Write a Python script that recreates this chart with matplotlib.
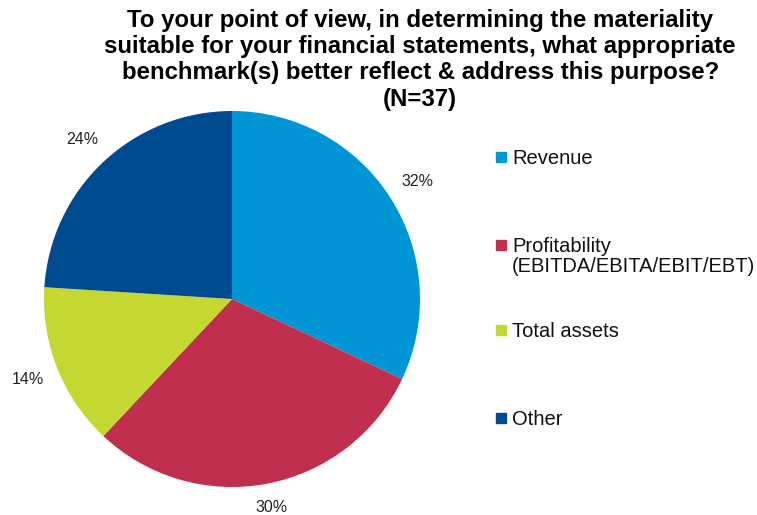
import numpy as np
import matplotlib.pyplot as plt
from matplotlib.patches import Rectangle

categories = ['Revenue', 'Profitability\n(EBITDA/EBITA/EBIT/EBT)', 'Total assets', 'Other']
shares = [32, 30, 14, 24]
colors = ['#0096D6', '#C0304E', '#C4D831', '#004A8F']
title = ('To your point of view, in determining the materiality\n'
         'suitable for your financial statements, what appropriate\n'
         'benchmark(s) better reflect & address this purpose?\n'
         '(N=37)')

W, H = 757, 515
fig = plt.figure(figsize=(W / 100, H / 100), dpi=100)

# pie centre and radius in pixels
cx, cy, r = 232, 299, 188
ax = fig.add_axes([(cx - r) / W, (H - cy - r) / H, 2 * r / W, 2 * r / H])

wedges, texts, autotexts = ax.pie(shares, colors=colors, startangle=90, counterclock=False,
                                  autopct='%d%%', pctdistance=1.15,
                                  textprops={'fontsize': 11.5, 'family': 'Liberation Sans',
                                             'color': '#222222'})
ax.set_xlim(-1, 1)
ax.set_ylim(-1, 1)
ax.set_aspect('equal')
ax.axis('off')

# push each percentage just outside its wedge, like the Excel "outside end" labels
for w, t in zip(wedges, autotexts):
    ang = np.deg2rad((w.theta1 + w.theta2) / 2)
    off = 15 + 15 * abs(np.cos(ang)) + 7 * abs(np.sin(ang))
    d = 1 + off / r
    t.set_position((d * np.cos(ang), d * np.sin(ang)))

fig.text(0.555, 1 - 9 / H, title, ha='center', va='top', fontsize=17.3, fontweight='bold',
         family='Liberation Sans', linespacing=1.18)

# legend drawn by hand so the square lines up with the first text line
legend_y = [157, 245, 330, 418]
for label, color, y in zip(categories, colors, legend_y):
    fig.patches.append(Rectangle((496 / W, (H - y - 5) / H), 10 / W, 10 / H,
                                 transform=fig.transFigure, color=color))
    fig.text(512 / W, (H - y + 8) / H, label, ha='left', va='top',
             fontsize=14.5, family='Liberation Sans', color='#111111', linespacing=1.07)

fig.savefig('out.png', dpi=100)
